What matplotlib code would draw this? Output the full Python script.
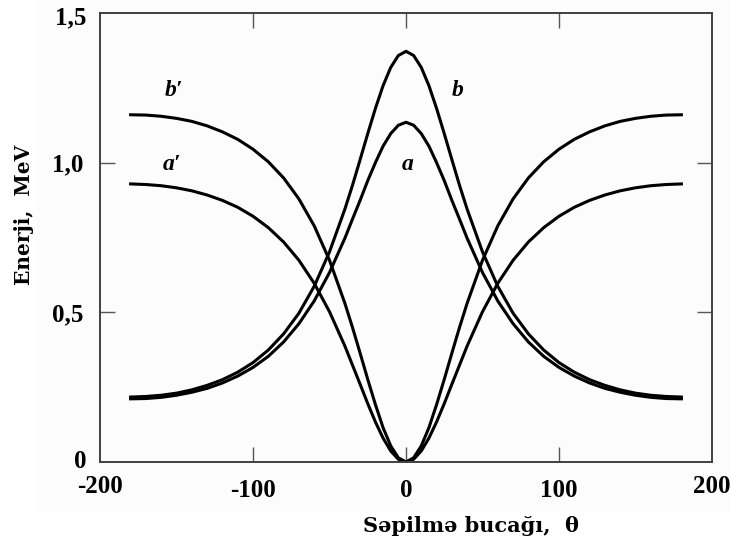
import matplotlib
matplotlib.use("Agg")
import matplotlib.pyplot as plt
from matplotlib.patches import Rectangle

# Scattering angle, degrees (finer steps near the forward peak)
theta = [-180, -170, -160, -150, -140, -130, -120, -110, -100, -90, -80, -70, -60, -50, -40,
         -35, -30, -25, -20, -15, -10, -5, 0, 5, 10, 15, 20, 25, 30, 35,
         40, 50, 60, 70, 80, 90, 100, 110, 120, 130, 140, 150, 160, 170, 180]

# Scattered photon energy, MeV
curve_a = [0.211, 0.212, 0.216, 0.223, 0.233, 0.246, 0.264, 0.287, 0.316, 0.353, 0.401, 0.462,
           0.538, 0.633, 0.747, 0.811, 0.874, 0.940, 1.000, 1.055, 1.097, 1.125, 1.135,
           1.125, 1.097, 1.055, 1.000, 0.940, 0.874, 0.811, 0.747, 0.633, 0.538, 0.462,
           0.401, 0.353, 0.316, 0.287, 0.264, 0.246, 0.233, 0.223, 0.216, 0.212, 0.211]
curve_b = [0.217, 0.219, 0.223, 0.230, 0.241, 0.256, 0.275, 0.300, 0.332, 0.374, 0.428, 0.497,
           0.587, 0.702, 0.844, 0.924, 1.010, 1.097, 1.181, 1.257, 1.318, 1.358, 1.372,
           1.358, 1.318, 1.257, 1.181, 1.097, 1.010, 0.924, 0.844, 0.702, 0.587, 0.497,
           0.428, 0.374, 0.332, 0.300, 0.275, 0.256, 0.241, 0.230, 0.223, 0.219, 0.217]

# Recoil electron energy, MeV
curve_a2 = [0.929, 0.927, 0.923, 0.916, 0.906, 0.892, 0.874, 0.851, 0.821, 0.783, 0.735, 0.674,
            0.597, 0.502, 0.388, 0.324, 0.260, 0.195, 0.134, 0.080, 0.037, 0.009, 0.0,
            0.009, 0.037, 0.080, 0.134, 0.195, 0.260, 0.324, 0.388, 0.502, 0.597, 0.674,
            0.735, 0.783, 0.821, 0.851, 0.874, 0.892, 0.906, 0.916, 0.923, 0.927, 0.929]
curve_b2 = [1.160, 1.159, 1.155, 1.148, 1.138, 1.123, 1.103, 1.078, 1.045, 1.003, 0.949, 0.879,
            0.789, 0.674, 0.531, 0.450, 0.364, 0.276, 0.192, 0.115, 0.054, 0.014, 0.0,
            0.014, 0.054, 0.115, 0.192, 0.276, 0.364, 0.450, 0.531, 0.674, 0.789, 0.879,
            0.949, 1.003, 1.045, 1.078, 1.103, 1.123, 1.138, 1.148, 1.155, 1.159, 1.160]

x_ticks = [-200, -100, 0, 100, 200]
x_tick_labels = ["-200", "-100", "0", "100", "200"]
y_ticks = [0, 0.5, 1.0, 1.5]
y_tick_labels = ["0", "0,5", "1,0", "1,5"]

serif = ["Liberation Serif", "DejaVu Serif"]

fig = plt.figure(figsize=(7.3, 5.45), dpi=100)
fig.patches.append(Rectangle((37 / 730, (545 - 512) / 545), 1, 1, transform=fig.transFigure,
                             facecolor="#fcfcfc", edgecolor="none", zorder=-10))
ax = fig.add_axes([100 / 730, (545 - 462) / 545, 612 / 730, 449 / 545])
ax.set_facecolor("none")

for y in (curve_a, curve_b, curve_a2, curve_b2):
    ax.plot(theta, y, color="black", lw=2.2, solid_joinstyle="round")

ax.set_xlim(-200, 200)
ax.set_ylim(0, 1.5)
ax.set_xticks(x_ticks[1:-1])
ax.set_xticklabels(x_tick_labels[1:-1])
ax.set_yticks(y_ticks[1:-1])
ax.set_yticklabels(y_tick_labels[1:-1])

for s in ax.spines.values():
    s.set_color("#404040")
    s.set_linewidth(1.4)
ax.tick_params(direction="in", length=11, width=1.0, color="#555555",
               top=True, right=True, labelsize=18, pad=12)
for lab in ax.get_xticklabels() + ax.get_yticklabels():
    lab.set_family(serif)
    lab.set_fontweight("bold")

# end labels drawn as free text so they sit at the axis corners
tick_font = dict(family=serif, fontweight="bold", fontsize=18)
ax.text(-200, -0.045, x_tick_labels[0], ha="center", va="top", **tick_font)
ax.text(200, -0.045, x_tick_labels[-1], ha="center", va="top", **tick_font)
ax.text(-209, 0.0, y_tick_labels[0], ha="right", va="center", **tick_font)
ax.text(-209, 1.485, y_tick_labels[-1], ha="right", va="center", **tick_font)

lab_font = dict(family=serif, fontweight="bold", fontstyle="italic", fontsize=17,
                ha="center", va="center")
ax.text(-152, 1.24, "b\u2032", **lab_font)
ax.text(-153, 0.995, "a\u2032", **lab_font)
ax.text(1, 0.995, "a", **lab_font)
ax.text(34, 1.24, "b", **lab_font)

fig.text(24 / 730, (545 - 215) / 545, "Enerji,  MeV", rotation=90, ha="center", va="center",
         family=["DejaVu Serif"], fontweight="bold", fontsize=14.5)
fig.text(471 / 730, (545 - 526) / 545, "Səpilmə bucağı,  θ", ha="center", va="center",
         family=["DejaVu Serif"], fontweight="bold", fontsize=15)

fig.savefig("out.png", dpi=100)
